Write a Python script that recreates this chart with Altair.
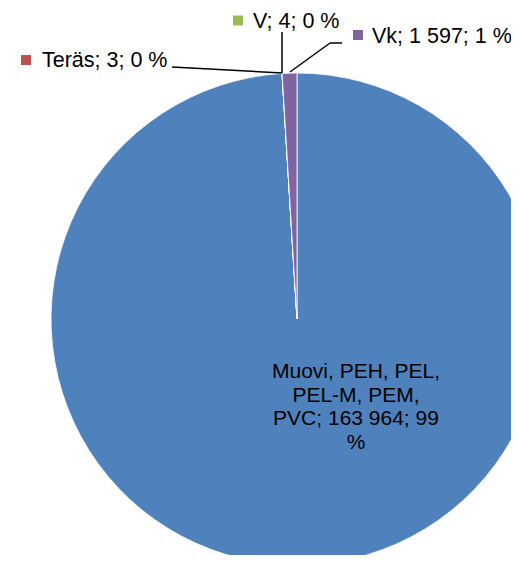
import altair as alt
import pandas as pd

categories = ["Muovi, PEH, PEL, PEL-M, PEM, PVC", "Teräs", "V", "Vk"]
values = [163964, 3, 4, 1597]
percents = ["99 %", "0 %", "0 %", "1 %"]
colors = ["#4F81BD", "#C0504D", "#9BBB59", "#8064A2"]


def fmt(v):
    return f"{v:,}".replace(",", " ")


df = pd.DataFrame({
    "category": categories,
    "value": values,
    "order": list(range(len(categories))),
})

FONT = "Liberation Sans"
FS = 21
FS_OUT = 21.5

pie = alt.Chart(df).mark_arc(radius=246, stroke="#FFFFFF", strokeWidth=0.8).encode(
    theta=alt.Theta("value:Q", stack=True),
    order=alt.Order("order:Q"),
    color=alt.Color("category:N", scale=alt.Scale(domain=categories, range=colors), legend=None),
    x=alt.value(289),
    y=alt.value(311),
)

labels = [f"{c}; {fmt(v)}; {p}" for c, v, p in zip(categories, values, percents)]

# inside label for the big slice (wrapped like the original)
big_lines = ["Muovi,  PEH, PEL,", "PEL-M, PEM,", f"PVC; {fmt(values[0])}; 99", "%"]

base = alt.Chart(pd.DataFrame({"a": [0]}))

layers = [pie]

layers.append(
    base.mark_text(font=FONT, fontSize=FS, align="center", baseline="alphabetic",
                   lineHeight=23.5, color="#000000", text=big_lines).encode(
        x=alt.value(348), y=alt.value(370))
)

# outside labels: (label index, square center, text start, baseline)
outside = [
    (1, (18, 52), (34, 59)),
    (2, (230, 12.5), (245, 20)),
    (3, (350, 27), (364, 35)),
]
for idx, (sx, sy), (tx, ty) in outside:
    layers.append(
        base.mark_square(size=100, color=colors[idx], opacity=1).encode(
            x=alt.value(sx), y=alt.value(sy))
    )
    layers.append(
        base.mark_text(font=FONT, fontSize=FS_OUT, align="left", baseline="alphabetic",
                       color="#000000", text=labels[idx]).encode(
            x=alt.value(tx), y=alt.value(ty))
    )

# leader lines
segments = [
    ((164, 59), (274, 65)),
    ((274, 24), (274, 65)),
    ((282, 64), (322, 35)),
    ((322, 35), (334, 35)),
]
for (x1, y1), (x2, y2) in segments:
    layers.append(
        base.mark_rule(color="#000000", strokeWidth=1.5).encode(
            x=alt.value(x1), y=alt.value(y1), x2=alt.value(x2), y2=alt.value(y2))
    )

chart = alt.layer(*layers).properties(
    width=503, height=547,
    autosize=alt.AutoSizeParams(type="none"),
    padding=0,
).configure_view(stroke=None)

chart.save("out.html", embed_options={"renderer": "svg", "actions": False})
